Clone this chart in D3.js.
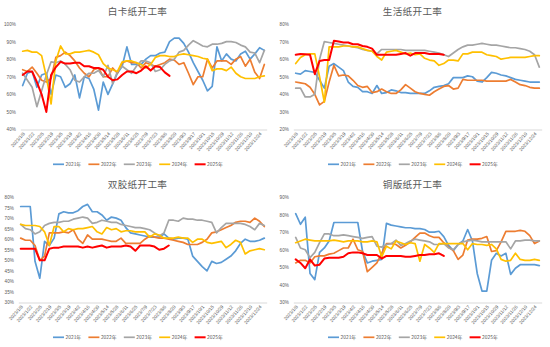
<!DOCTYPE html>
<html><head><meta charset="utf-8">
<script src="https://cdn.jsdelivr.net/npm/d3@7/dist/d3.min.js"></script>
<style>
html,body{margin:0;padding:0;background:#fff;}
svg{display:block;font-family:"Noto Sans CJK SC","Noto Sans",sans-serif;}
</style></head>
<body>
<svg id="chart" width="550" height="347"></svg>
<script>
const categories = ["2023/1/8","2023/1/15","2023/1/22","2023/1/29","2023/2/5","2023/2/12","2023/2/19","2023/2/26","2023/3/5","2023/3/12","2023/3/19","2023/3/26","2023/4/2","2023/4/9","2023/4/16","2023/4/23","2023/4/30","2023/5/7","2023/5/14","2023/5/21","2023/5/28","2023/6/4","2023/6/11","2023/6/18","2023/6/25","2023/7/2","2023/7/9","2023/7/16","2023/7/23","2023/7/30","2023/8/6","2023/8/13","2023/8/20","2023/8/27","2023/9/3","2023/9/10","2023/9/17","2023/9/24","2023/10/1","2023/10/8","2023/10/15","2023/10/22","2023/10/29","2023/11/5","2023/11/12","2023/11/19","2023/11/26","2023/12/3","2023/12/10","2023/12/17","2023/12/24","2023/12/31"];
const seriesNames = ["2021年","2022年","2023年","2024年","2025年"];
const titles = ["白卡纸开工率","生活纸开工率","双胶纸开工率","铜版纸开工率"];

// 白卡纸
const baika2021 = [65,72,73,64,71,72,60,71,70,64,66,71,58,70,69,63,51,67,60,66,72,76,87,77,77,77,80,82,82,83.5,84,90,92,92,89,84,78,73,68,62,64.5,87,79,83,80,79,83,84.5,80,83,86.5,85];
const baika2022 = [74,73,75.5,72,68,67,69,81,82,84,82,79,75,72,70,74,75,70,70,75,72,78,79,78,78,75,78,77,76,77,78,80,79.5,77,78,72,65.5,70,70,80,75,79,79,79,77,80,81.5,76,80,72.5,69,77];
const baika2023 = [72,68,64,53,62,71,78.5,78,79,77,74,68,67,70,72,72,73.5,70,76.5,66,73,76,74,72,76,79,79,78,73,74,77,79,80,84,85,88,90.5,89,87.5,87,88.5,88.5,89,90,90,89.5,88,87,84,83.5,78,85];
const baika2024 = [84.5,85,84,84,82,70,54.5,79,87.5,83,83,84,84,84.5,85,84,82.5,77.5,75,74,73,78.5,79,79,78,77,75,77,81,82,82,81.5,81.5,82.5,83,82.5,82,81.5,80.5,80,73.5,74.5,74.5,73.5,75.5,72,70,69,69,69,70,70.5];
const baika2025 = [71,73,73,67,60,50,71,75.5,78.5,77.5,77.5,78,78,76,76,75,75,74,70,68,68.5,71,73,73,72,73.5,76,73.5,76,75.5,72.5,70.5];

// 生活纸
const shenghuo2021 = [52,51.5,53.5,53,52.5,48,43.5,56,57.5,55.5,53.5,47,44.5,44,41.5,41.5,40.5,45,40.5,41,42.5,42,41,41,40.5,40.5,40.5,40.5,42,44,44.5,45,46,49.5,49.5,49.5,50.5,50,47.5,47,49.5,52.5,52,51,50.5,49.5,48.5,48,47.5,47,47,47];
const shenghuo2022 = [47,46.5,46,44,40,34,36,47,56.5,50.5,51,50.5,48,45,44,44.5,41,41.5,43,41.5,40.5,40.5,42.5,45.5,43.5,41.5,40.5,40,39.5,41.5,43,44.5,45,43,43.5,48.5,48,48,48,48,47.5,47.5,47.5,47.5,47.5,48.5,47,45.5,45,44,43.5,43.5];
const shenghuo2023 = [43.5,43.5,38.5,38.5,40,60,70,69.5,69,68.5,68,67.5,67,66.5,65.5,65,64.5,63,65.5,65.5,65.5,65.5,65.5,65,65,65,65,65,64.5,64,63.5,62.5,61.5,63.5,65.5,67,68,68,68.5,69,68.5,68,68,67.5,67,66.5,66.5,66,65.5,64.5,62.5,55.5];
const shenghuo2024 = [57.5,61,62.5,63,63,50,35.5,67,67,67,67.5,67.5,67,67,66,65,64.5,61.5,59.5,64,64.5,65,64,63,63.5,62.5,63,60.5,59.5,59,56.5,57.5,59.5,59.5,59,63,63,64,64,64,62.5,62,61.5,60,60.5,61,61,61,61,61.5,62,62];
const shenghuo2025 = [62.5,63,62.8,62.5,51.5,59,59.5,59.5,70.5,70,69.5,69.5,68.5,68.5,67.5,67,66,62.5,62.5,62.5,62.5,62.5,63,63.5,62,63.5,63.5,63.5,63,63,63,62.5];

// 双胶纸
const shuangjiao2021 = [75.5,75.5,75.5,49.5,41.5,59,57,60.5,72,73,72.5,72.5,73.5,75.5,76.5,73,73,71.5,69,70.5,70,69,65.5,63,62.5,62,61.5,61,61,61,62.5,60.5,60,60.5,60.5,60,52,49.5,47,45,49.5,48.5,49,50.5,52,54.5,58,60,59,59,59.5,60.5];
const shuangjiao2022 = [60.5,59.5,59.5,57,50,52,63,63,63,63.5,63,64.5,60,58,62,60,60,60,59.5,59,59,60.5,58,58,58,58,60,61.5,61,60.5,60.5,60,59.5,59,58.5,57.5,57.5,57.5,58.5,60,63,63.5,64.5,65.5,66.5,68,68.5,68.5,68,70,68.5,66];
const shuangjiao2023 = [67,65,64.5,62.5,63.5,66.5,67.5,68,68,68.5,68.5,69.5,70,70.5,70,67.5,68,69,68.5,68,68,67,66.5,66,65.5,65.5,65,64.5,63,61.5,63,69,69,68.5,70,69.5,69.5,69,69,68.5,68,63,65.5,67.5,67.5,67.5,67.5,67,66,64.5,67.5,66.5];
const shuangjiao2024 = [67,66.5,66.5,66.5,66,63.5,57,66,66,63.5,65,64.5,65,65,65.5,66,63.5,62.5,65.5,64.5,65,63.5,64,64,63.5,63.5,63.5,61,62.5,62,60.5,60.5,60.5,61,60.5,60.5,58.5,60,60,58.5,58,58.5,59,56,57.5,59.5,58.5,53,54.5,55,55.5,55];
const shuangjiao2025 = [55.5,55.5,55.5,55.5,50,50,55.5,56,56,56.5,56.5,56.5,56.5,56,56.5,56,56.5,57,56,56.5,56.5,56.5,57,56.5,54.5,57,57,57,56.5,55,55.5,57];

// 铜版纸
const tongban2021 = [80.5,74.5,78.5,46.5,43,58.5,61,65,75.5,75.5,75.5,75.5,75.5,75.5,59,52.5,53.5,54,54.5,75,74,73.5,73,72.5,72.5,72,72,71.5,70,70,70.5,67.5,62.5,59.5,63,65,71.5,65,46.5,36.5,36.5,54,58,56.5,58,46,49.5,51.5,51.5,51.5,51.5,51];
const tongban2022 = [52.5,54,54,52.5,56,56.5,56.5,57.5,58,59.5,61,61,66,60,59,47.5,50,52.5,58,63.5,63.5,63,61,62.5,64.5,67,69.5,69.5,68,67,67,64,61.5,59.5,54.5,57,65.5,66,66,66.5,67.5,59,59.5,64.5,70.5,70.5,70.5,71,70.5,68,63.5,65];
const tongban2023 = [67,61,60,55.5,58.5,64,69,69,68,68,68.5,68,67.5,67,66.5,67,67.5,62,61.5,63,63.5,65.5,62.5,63.5,65,66,65.5,65,64.5,63,63,63.5,61,60,63,64.5,65,65.5,65,64.5,64.5,64.5,64.5,64.5,64.5,60.5,65,65,65.5,65.5,65,65];
const tongban2024 = [64,65,66,65.5,65,65,65,65,65.5,65,64.5,65,65,65,64.5,64.5,65,64.5,56,62,60.5,65,64,63,64,63.5,53.5,63,61,58.5,63.5,63.5,63.5,63.5,63.5,63.5,60,63.5,63,63,62.5,63,60.5,54.5,53.5,54,58,54.5,54,54,54.5,54];
const tongban2025 = [54.5,52.5,49.5,54.5,51,51.5,55,55.5,55.5,55.5,56,58,58.5,58.5,58,57,57,57,55,56.5,56.5,56.5,56.5,56,56,56.5,57,57,57.5,57.5,58,56.5];

const yTicks1 = [40,50,60,70,80,90,100];
const yTicks2 = [20,30,40,50,60,70,80];
const yTicks3 = [30,35,40,45,50,55,60,65,70,75,80];
const yTicks4 = [30,40,50,60,70,80,90];

const colors = ["#5B9BD5","#ED7D31","#A5A5A5","#FFC000","#FF0000"];

const panels = [
  {title: titles[0], series:[baika2021,baika2022,baika2023,baika2024,baika2025], ticks:yTicks1, ox:0, oy:0, left:20.3},
  {title: titles[1], series:[shenghuo2021,shenghuo2022,shenghuo2023,shenghuo2024,shenghuo2025], ticks:yTicks2, ox:275, oy:0, left:18.3},
  {title: titles[2], series:[shuangjiao2021,shuangjiao2022,shuangjiao2023,shuangjiao2024,shuangjiao2025], ticks:yTicks3, ox:0, oy:173, left:18.3},
  {title: titles[3], series:[tongban2021,tongban2022,tongban2023,tongban2024,tongban2025], ticks:yTicks4, ox:275, oy:173, left:18.3}
];

const svg = d3.select("#chart");
const textColor = "#595959";
const plotTop = 24, plotBottom = 129.5, plotRight = 266.7;

panels.forEach(p => {
  const g = svg.append("g").attr("transform", `translate(${p.ox},${p.oy})`);
  const x = d3.scalePoint().domain(categories).range([p.left, plotRight]).padding(0.5);
  const y = d3.scaleLinear().domain([d3.min(p.ticks), d3.max(p.ticks)]).range([plotBottom, plotTop]);

  g.append("text").attr("x", 137.5).attr("y", 14.8).attr("text-anchor","middle")
    .attr("font-size", 9.6).attr("fill", textColor).attr("letter-spacing", 0.3).text(p.title);

  const ya = g.append("g").attr("transform", `translate(${p.left},0)`)
    .call(d3.axisLeft(y).tickValues(p.ticks).tickSize(0).tickPadding(4.5).tickFormat(d => d + "%"));
  ya.select(".domain").remove();
  ya.selectAll("text").attr("font-size", 4.6).attr("fill", textColor).attr("font-family", "Liberation Sans, Arial, sans-serif");

  const xa = g.append("g").attr("transform", `translate(0,${plotBottom})`)
    .call(d3.axisBottom(x).tickValues(categories.filter((d,i) => i % 2 === 0)).tickSizeInner(0).tickSizeOuter(0));
  xa.select(".domain").attr("stroke", "#D9D9D9").attr("stroke-width", 1);
  xa.selectAll("text")
    .attr("font-size", 4.7).attr("fill", textColor).attr("font-family", "Liberation Sans, Arial, sans-serif")
    .attr("text-anchor", "end").attr("dy", null).attr("y", 0)
    .attr("transform", "translate(2,4.5) rotate(-48)");

  const line = d3.line().x((d,i) => x(categories[i])).y(d => y(d)).curve(d3.curveLinear);
  p.series.forEach((s, k) => {
    g.append("path").datum(s).attr("d", line).attr("fill","none")
      .attr("stroke", colors[k]).attr("stroke-width", k === 4 ? 2 : 1.7)
      .attr("stroke-linejoin","round").attr("stroke-linecap","round");
  });

  const leg = g.append("g").attr("transform", "translate(53,164.3)");
  seriesNames.forEach((n, k) => {
    const li = leg.append("g").attr("transform", `translate(${k*35.4},0)`);
    li.append("line").attr("x1",0).attr("x2",11).attr("y1",0).attr("y2",0)
      .attr("stroke", colors[k]).attr("stroke-width", k === 4 ? 2 : 1.7);
    li.append("text").attr("x", 12.5).attr("y", 1.8).attr("font-size", 4.9).attr("fill", textColor).text(n);
  });
});
</script>
</body></html>
